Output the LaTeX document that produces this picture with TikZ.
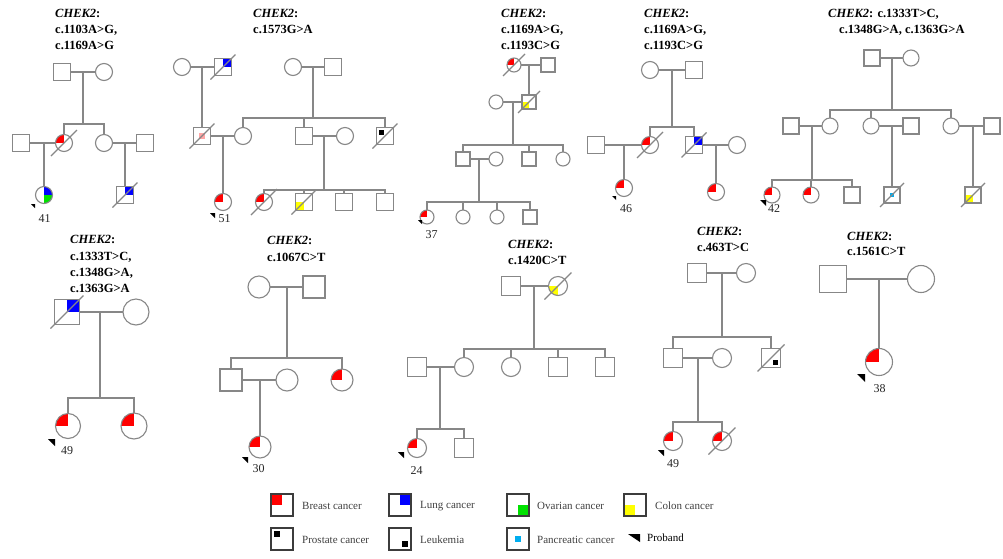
\documentclass[tikz,border=0pt]{standalone}
\usepackage{fontspec}
\setmainfont{Liberation Serif}
\usetikzlibrary{calc}
\definecolor{lg}{RGB}{135,135,135}
\definecolor{lgd}{RGB}{60,60,60}
\definecolor{gr}{RGB}{0,225,0}
\definecolor{yl}{RGB}{255,255,0}
\newcommand\deceasedline[2]{\draw[ln] ($(#1.center)+(-#2,#2)$) -- ($(#1.center)+(#2,-#2)$);}
\newcommand\probandmark[3]{\fill[black] (#1,#2) -- ++(#3,0) -- ++(0,#3) -- cycle;}
\tikzset{
 ln/.style={draw=lg, line width=1.1pt},
 sq/.style={rectangle, draw=lg, line width=1.1pt, fill=white, minimum size=#1, inner sep=0pt, outer sep=0pt},
 ci/.style={circle, draw=lg, line width=1.1pt, fill=white, minimum size=#1, inner sep=0pt, outer sep=0pt},
 lgb/.style={rectangle, draw=lgd, line width=1.4pt, fill=white, minimum size=22, inner sep=0pt, outer sep=0pt},
 ul/.style={path picture={\fill[#1] (path picture bounding box.center) rectangle (path picture bounding box.north west);}},
 ur/.style={path picture={\fill[#1] (path picture bounding box.center) rectangle (path picture bounding box.north east);}},
 lr/.style={path picture={\fill[#1] (path picture bounding box.center) rectangle (path picture bounding box.south east);}},
 ll/.style={path picture={\fill[#1] (path picture bounding box.center) rectangle (path picture bounding box.south west);}},
 urlr/.style 2 args={path picture={\fill[#1] (path picture bounding box.center) rectangle (path picture bounding box.north east);\fill[#2] (path picture bounding box.center) rectangle (path picture bounding box.south east);}},
 pr/.style={path picture={\fill[black] ($(path picture bounding box.north west)!0.12!(path picture bounding box.south east)$) rectangle ($(path picture bounding box.north west)!0.42!(path picture bounding box.south east)$);}},
 lk/.style={path picture={\fill[black] ($(path picture bounding box.south east)!0.12!(path picture bounding box.north west)$) rectangle ($(path picture bounding box.south east)!0.42!(path picture bounding box.north west)$);}},
 cm/.style={path picture={\fill[#1] ($(path picture bounding box.center)!0.3!(path picture bounding box.north west)$) rectangle ($(path picture bounding box.center)!0.3!(path picture bounding box.south east)$);}},
 ttl/.style={anchor=base west, inner sep=0pt, font=\fontsize{12.5}{15}\selectfont\bfseries},
 age/.style={anchor=base, inner sep=0pt, font=\fontsize{12}{14}\selectfont, text=black!85},
 lgt/.style={anchor=west, inner sep=0pt, font=\fontsize{11}{13}\selectfont, text=black!75},
}
\begin{document}
\begin{tikzpicture}[x=1pt,y=-1pt]
\fill[white] (0,0) rectangle (1003,558);
\useasboundingbox (0,0) rectangle (1003,558);

% ---------- titles ----------
\node[ttl] (t1a) at (55,17) {\textit{CHEK2}:};
\node[ttl] (t1b) at (55,33) {c.1103A>G,};
\node[ttl] (t1c) at (55,49) {c.1169A>G};
\node[ttl] (t2a) at (253,17) {\textit{CHEK2}:};
\node[ttl] (t2b) at (253,33) {c.1573G>A};
\node[ttl] (t3a) at (501,17) {\textit{CHEK2}:};
\node[ttl] (t3b) at (501,33) {c.1169A>G,};
\node[ttl] (t3c) at (501,49) {c.1193C>G};
\node[ttl] (t4a) at (644,17) {\textit{CHEK2}:};
\node[ttl] (t4b) at (644,33) {c.1169A>G,};
\node[ttl] (t4c) at (644,49) {c.1193C>G};
\node[ttl] (t5a) at (828,17) {\textit{CHEK2}: c.1333T>C,};
\node[ttl] (t5b) at (839,33) {c.1348G>A, c.1363G>A};
\node[ttl] (t6a) at (70,243.5) {\textit{CHEK2}:};
\node[ttl] (t6b) at (70,260) {c.1333T>C,};
\node[ttl] (t6c) at (70,276) {c.1348G>A,};
\node[ttl] (t6d) at (70,292) {c.1363G>A};
\node[ttl] (t7a) at (267,244.5) {\textit{CHEK2}:};
\node[ttl] (t7b) at (267,261.5) {c.1067C>T};
\node[ttl] (t8a) at (508,248) {\textit{CHEK2}:};
\node[ttl] (t8b) at (508,264) {c.1420C>T};
\node[ttl] (t9a) at (697,235) {\textit{CHEK2}:};
\node[ttl] (t9b) at (697,251.5) {c.463T>C};
\node[ttl] (t10a) at (847,240) {\textit{CHEK2}:};
\node[ttl] (t10b) at (847,255.5) {c.1561C>T};

% ---------- pedigree 1 ----------
\node[sq=17] (a1) at (62,72) {};
\node[ci=17] (a2) at (104,72) {};
\node[sq=17] (a3) at (21,143) {};
\node[ci=17, ul=red] (a4) at (64,143) {};
\node[ci=17] (a5) at (104,143) {};
\node[sq=17] (a6) at (145,143) {};
\node[ci=17, urlr={blue}{gr}] (a7) at (44,195) {};
\node[sq=17, ur=blue] (a8) at (125,195) {};
\coordinate (a12) at (83,124);
\draw[ln] (a1) -- (a2);
\draw[ln] (a12 |- a1) -- (a12);
\draw[ln] (a4.north) -- (a4.north |- a12) -- (a5.north |- a12) -- (a5.north);
\draw[ln] (a3) -- (a4);
\draw[ln] (a7.north) -- (a7.north |- a3);
\draw[ln] (a5) -- (a6);
\draw[ln] (a8.north) -- (a8.north |- a5);
\deceasedline{a4}{13}
\deceasedline{a8}{12.5}
\probandmark{31}{204}{4}
\node[age] (n41) at (44.5,222) {41};

% ---------- pedigree 2 ----------
\node[ci=17] (b1) at (182,67) {};
\node[sq=17, ur=blue] (b2) at (223,67) {};
\node[ci=17] (b3) at (293,67) {};
\node[sq=17] (b4) at (333,67) {};
\node[sq=17, cm=red!35] (b5) at (202,136) {};
\node[ci=17] (b6) at (243,136) {};
\node[sq=17] (b7) at (304,136) {};
\node[ci=17] (b8) at (345,136) {};
\node[sq=17, pr] (b9) at (385,136) {};
\node[ci=17, ul=red] (b10) at (223,202) {};
\node[ci=17, ul=red] (b11) at (264,202) {};
\node[sq=17, ll=yl] (b12) at (304,202) {};
\node[sq=17] (b13) at (344,202) {};
\node[sq=17] (b14) at (385,202) {};
\coordinate (b34) at (313,118);
\coordinate (b78) at (324,190);
\draw[ln] (b1) -- (b2);
\draw[ln] (b5.north) -- (b5.north |- b1);
\draw[ln] (b3) -- (b4);
\draw[ln] (b34 |- b3) -- (b34);
\draw[ln] (b6.north) -- (b6.north |- b34) -- (b9.north |- b34) -- (b9.north);
\draw[ln] (b7.north) -- (b7.north |- b34);
\draw[ln] (b5) -- (b6);
\draw[ln] (b10.north) -- (b10.north |- b5);
\draw[ln] (b7) -- (b8);
\draw[ln] (b78 |- b7) -- (b78);
\draw[ln] (b11.north) -- (b11.north |- b78) -- (b14.north |- b78) -- (b14.north);
\draw[ln] (b12.north) -- (b12.north |- b78);
\draw[ln] (b13.north) -- (b13.north |- b78);
\deceasedline{b2}{12.5}
\deceasedline{b5}{12.5}
\deceasedline{b9}{12.5}
\deceasedline{b11}{13}
\deceasedline{b12}{12.5}
\probandmark{210}{213}{5}
\node[age] (n51) at (224.5,222) {51};

% ---------- pedigree 3 ----------
\node[ci=14, ul=red] (c1) at (514,65) {};
\node[sq=14] (c2) at (548,65) {};
\node[ci=14] (c3) at (496,102) {};
\node[sq=14, ll=yl] (c4) at (529,102) {};
\node[sq=14] (c5) at (463,159) {};
\node[ci=14] (c6) at (496,159) {};
\node[sq=14] (c7) at (529,159) {};
\node[ci=14] (c8) at (563,159) {};
\node[ci=14, ul=red] (c9) at (427,217) {};
\node[ci=14] (c10) at (463,217) {};
\node[ci=14] (c11) at (497,217) {};
\node[sq=14] (c12) at (530,217) {};
\coordinate (c34) at (513,145);
\coordinate (c56) at (479,202);
\draw[ln] (c1) -- (c2);
\draw[ln] (c4.north) -- (c4.north |- c1);
\draw[ln] (c3) -- (c4);
\draw[ln] (c34 |- c3) -- (c34);
\draw[ln] (c5.north) -- (c5.north |- c34) -- (c8.north |- c34) -- (c8.north);
\draw[ln] (c7.north) -- (c7.north |- c34);
\draw[ln] (c5) -- (c6);
\draw[ln] (c56 |- c5) -- (c56);
\draw[ln] (c9.north) -- (c9.north |- c56) -- (c12.north |- c56) -- (c12.north);
\draw[ln] (c10.north) -- (c10.north |- c56);
\draw[ln] (c11.north) -- (c11.north |- c56);
\deceasedline{c1}{11}
\deceasedline{c4}{11}
\probandmark{418}{220}{4}
\node[age] (n37) at (431.5,238.5) {37};

% ---------- pedigree 4 ----------
\node[ci=17] (d1) at (650,70) {};
\node[sq=17] (d2) at (694,70) {};
\node[sq=17] (d3) at (596,145) {};
\node[ci=17, ul=red] (d4) at (650,145) {};
\node[sq=17, ur=blue] (d5) at (694,145) {};
\node[ci=17] (d6) at (737,145) {};
\node[ci=17, ul=red] (d7) at (624,188) {};
\node[ci=17, ul=red] (d8) at (716,192) {};
\coordinate (d12) at (672,127);
\draw[ln] (d1) -- (d2);
\draw[ln] (d12 |- d1) -- (d12);
\draw[ln] (d4.north) -- (d4.north |- d12) -- (d5.north |- d12) -- (d5.north);
\draw[ln] (d3) -- (d4);
\draw[ln] (d7.north) -- (d7.north |- d3);
\draw[ln] (d5) -- (d6);
\draw[ln] (d8.north) -- (d8.north |- d5);
\deceasedline{d4}{13}
\deceasedline{d5}{12.5}
\probandmark{612}{196}{4}
\node[age] (n46) at (626,212) {46};

% ---------- pedigree 5 ----------
\node[sq=16] (e1) at (872,58) {};
\node[ci=16] (e2) at (911,58) {};
\node[sq=16] (e3) at (791,126) {};
\node[ci=16] (e4) at (830,126) {};
\node[ci=16] (e5) at (871,126) {};
\node[sq=16] (e6) at (911,126) {};
\node[ci=16] (e7) at (951,126) {};
\node[sq=16] (e8) at (992,126) {};
\node[ci=16, ul=red] (e9) at (772,195) {};
\node[ci=16, ul=red] (e10) at (811,195) {};
\node[sq=16] (e11) at (852,195) {};
\node[sq=16, cm=cyan] (e12) at (892,195) {};
\node[sq=16, ll=yl] (e13) at (973,195) {};
\coordinate (e12c) at (892,110);
\coordinate (e34) at (812,180);
\draw[ln] (e1) -- (e2);
\draw[ln] (e12c |- e1) -- (e12c);
\draw[ln] (e4.north) -- (e4.north |- e12c) -- (e7.north |- e12c) -- (e7.north);
\draw[ln] (e5.north) -- (e5.north |- e12c);
\draw[ln] (e3) -- (e4);
\draw[ln] (e34 |- e3) -- (e34);
\draw[ln] (e9.north) -- (e9.north |- e34) -- (e11.north |- e34) -- (e11.north);
\draw[ln] (e10.north) -- (e10.north |- e34);
\draw[ln] (e5) -- (e6);
\draw[ln] (e12.north) -- (e12.north |- e5);
\draw[ln] (e7) -- (e8);
\draw[ln] (e13.north) -- (e13.north |- e7);
\deceasedline{e12}{12}
\deceasedline{e13}{12}
\probandmark{760}{200}{6}
\node[age] (n42) at (774,212) {42};

% ---------- pedigree 6 ----------
\node[sq=25, ur=blue] (f1) at (67,312) {};
\node[ci=26] (f2) at (136,312) {};
\node[ci=25, ul=red] (f3) at (68,426) {};
\node[ci=26, ul=red] (f4) at (134,426) {};
\coordinate (f12) at (100,398);
\draw[ln] (f1) -- (f2);
\draw[ln] (f12 |- f1) -- (f12);
\draw[ln] (f3.north) -- (f3.north |- f12) -- (f4.north |- f12) -- (f4.north);
\deceasedline{f1}{16.5}
\probandmark{48}{439}{7}
\node[age] (n49a) at (67,454) {49};

% ---------- pedigree 7 ----------
\node[ci=22] (g1) at (259,287) {};
\node[sq=22] (g2) at (314,287) {};
\node[sq=22] (g3) at (231,380) {};
\node[ci=22] (g4) at (287,380) {};
\node[ci=22, ul=red] (g5) at (342,380) {};
\node[ci=22, ul=red] (g6) at (260,447) {};
\coordinate (g12) at (287,358);
\draw[ln] (g1) -- (g2);
\draw[ln] (g12 |- g1) -- (g12);
\draw[ln] (g3.north) -- (g3.north |- g12) -- (g5.north |- g12) -- (g5.north);
\draw[ln] (g3) -- (g4);
\draw[ln] (g6.north) -- (g6.north |- g3);
\probandmark{242}{457}{6}
\node[age] (n30) at (258.5,472) {30};

% ---------- pedigree 8 ----------
\node[sq=19] (h1) at (511,286) {};
\node[ci=19, ll=yl] (h2) at (558,286) {};
\node[sq=19] (h3) at (417,367) {};
\node[ci=19] (h4) at (464,367) {};
\node[ci=19] (h5) at (511,367) {};
\node[sq=19] (h6) at (558,367) {};
\node[sq=19] (h7) at (605,367) {};
\node[ci=19, ul=red] (h8) at (417,448) {};
\node[sq=19] (h9) at (464,448) {};
\coordinate (h12) at (534,349);
\coordinate (h34) at (440,429);
\draw[ln] (h1) -- (h2);
\draw[ln] (h12 |- h1) -- (h12);
\draw[ln] (h4.north) -- (h4.north |- h12) -- (h7.north |- h12) -- (h7.north);
\draw[ln] (h5.north) -- (h5.north |- h12);
\draw[ln] (h6.north) -- (h6.north |- h12);
\draw[ln] (h3) -- (h4);
\draw[ln] (h34 |- h3) -- (h34);
\draw[ln] (h8.north) -- (h8.north |- h34) -- (h9.north |- h34) -- (h9.north);
\deceasedline{h2}{13.5}
\probandmark{398}{452}{6}
\node[age] (n24) at (416.5,474) {24};

% ---------- pedigree 9 ----------
\node[sq=19] (i1) at (697,273) {};
\node[ci=19] (i2) at (746,273) {};
\node[sq=19] (i3) at (673,358) {};
\node[ci=19] (i4) at (722,358) {};
\node[sq=19, lk] (i5) at (771,358) {};
\node[ci=19, ul=red] (i6) at (673,441) {};
\node[ci=19, ul=red] (i7) at (722,441) {};
\coordinate (i12) at (722,337);
\coordinate (i34) at (698,422);
\draw[ln] (i1) -- (i2);
\draw[ln] (i12 |- i1) -- (i12);
\draw[ln] (i3.north) -- (i3.north |- i12) -- (i5.north |- i12) -- (i5.north);
\draw[ln] (i3) -- (i4);
\draw[ln] (i34 |- i3) -- (i34);
\draw[ln] (i6.north) -- (i6.north |- i34) -- (i7.north |- i34) -- (i7.north);
\deceasedline{i5}{13.5}
\deceasedline{i7}{13.5}
\probandmark{658}{450}{6}
\node[age] (n49b) at (673,467) {49};

% ---------- pedigree 10 ----------
\node[sq=27] (j1) at (833,279) {};
\node[ci=27] (j2) at (921,279) {};
\node[ci=27, ul=red] (j3) at (879,362) {};
\draw[ln] (j1) -- (j2);
\draw[ln] (j3.north) -- (j3.north |- j1);
\probandmark{857}{374}{8}
\node[age] (n38) at (879.5,392) {38};

% ---------- legend ----------
\node[lgb, ul=red] (L1) at (282,505) {};
\node[lgb, ur=blue] (L2) at (400,505) {};
\node[lgb, lr=gr] (L3) at (518,505) {};
\node[lgb, ll=yl] (L4) at (635,505) {};
\node[lgb, pr] (L5) at (282,539) {};
\node[lgb, lk] (L6) at (400,539) {};
\node[lgb, cm=cyan] (L7) at (518,539) {};
\node[lgt] (l1) at (302,506) {Breast cancer};
\node[lgt] (l2) at (420,506) {Lung cancer};
\node[lgt] (l3) at (537,506) {Ovarian cancer};
\node[lgt] (l4) at (655,506) {Colon cancer};
\node[lgt] (l5) at (302,540) {Prostate cancer};
\node[lgt] (l6) at (420,540) {Leukemia};
\node[lgt] (l7) at (537,540) {Pancreatic cancer};
\fill[black] (628,534) -- (640,534) -- (640,542) -- cycle;
\node[lgt, text=black] (l8) at (647,538) {Proband};
\end{tikzpicture}
\end{document}
